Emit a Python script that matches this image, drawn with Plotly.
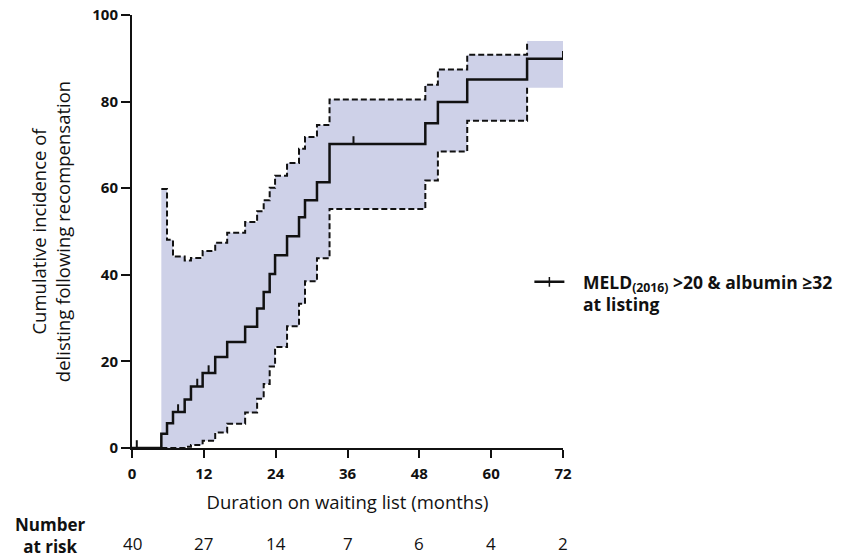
import plotly.graph_objects as go

# ---- data ----
months = [0, 4.9, 5.85, 6.85, 8.8, 9.85, 11.8, 13.9, 15.9, 18.9, 20.9, 22.0, 23.0, 23.9,
          25.9, 27.9, 28.9, 30.9, 33.0, 49.0, 51.1, 56.0, 66.0, 72.0]
incidence = [0, 3.3, 5.7, 8.3, 11.2, 14.2, 17.3, 21.0, 24.5, 28.0, 32.2, 36.0, 40.2, 44.5,
             48.9, 53.3, 57.2, 61.4, 70.2, 75.0, 79.9, 85.1, 89.9, 89.9]

ci_months = [4.9, 5.85, 6.85, 8.8, 9.85, 11.8, 13.9, 15.9, 18.9, 20.9, 22.0, 23.0, 23.9,
             25.9, 27.9, 28.9, 30.9, 33.0, 49.0, 51.1, 56.0, 66.0]
ci_upper = [59.8, 48.1, 44.2, 43.3, 43.9, 45.5, 47.4, 49.7, 52.2, 54.7, 57.2, 60.1, 62.9,
            65.8, 69.1, 71.8, 74.6, 80.5, 83.9, 87.4, 90.8, 94.0]
ci_lower = [0, 0, 0, 0.3, 0.7, 1.7, 3.6, 5.6, 8.2, 11.4, 14.8, 18.8, 23.3,
            28.1, 33.3, 38.5, 43.8, 55.2, 61.8, 68.5, 75.6, 83.2]
ci_end_month = 72.0

censor_months = [0.8, 7.7, 10.9, 12.8, 37.0, 72.0]
censor_values = [0, 8.3, 14.2, 17.3, 70.2, 89.9]
censor_height = 1.8

x_ticks = [0, 12, 24, 36, 48, 60, 72]
y_ticks = [0, 20, 40, 60, 80, 100]
number_at_risk = [40, 27, 14, 7, 6, 4, 2]

NB = "\u00a0\u00a0\u00a0"
series_name = NB + "MELD<sub>(2016)</sub> >20 & albumin ≥32<br>" + NB + "at listing"

FONT = "Open Sans"
INK = "#111111"
FILL = "rgb(206,209,232)"

fig = go.Figure()

# confidence band (fill)
fig.add_trace(go.Scatter(
    x=ci_months + [ci_end_month], y=ci_lower + [ci_lower[-1]],
    mode="lines", line=dict(width=0, shape="hv"), showlegend=False, hoverinfo="skip"))
fig.add_trace(go.Scatter(
    x=ci_months + [ci_end_month], y=ci_upper + [ci_upper[-1]],
    mode="lines", line=dict(width=0, shape="hv"), fill="tonexty", fillcolor=FILL,
    showlegend=False, hoverinfo="skip"))

# dashed CI bounds
for yy in (ci_lower, ci_upper):
    fig.add_trace(go.Scatter(
        x=ci_months, y=yy, mode="lines",
        line=dict(color=INK, width=2, dash="6px,3px", shape="hv"),
        showlegend=False, hoverinfo="skip"))

# estimate
fig.add_trace(go.Scatter(
    x=months, y=incidence, mode="lines",
    line=dict(color=INK, width=2.5, shape="hv"), showlegend=False))

# censor ticks
cx, cy = [], []
for m, v in zip(censor_months, censor_values):
    cx += [m, m, None]
    cy += [v, v + censor_height, None]
fig.add_trace(go.Scatter(x=cx, y=cy, mode="lines", line=dict(color=INK, width=2),
                         showlegend=False, hoverinfo="skip"))

# legend entry
fig.add_trace(go.Scatter(
    x=[None], y=[None], mode="lines+markers", name=series_name,
    line=dict(color=INK, width=2.5),
    marker=dict(symbol="line-ns-open", size=7, color=INK, line=dict(width=1.5, color=INK))))

# number at risk
for t, n in zip(x_ticks, number_at_risk):
    fig.add_annotation(x=t, y=-0.220, xref="x", yref="paper", text=str(n), showarrow=False,
                       font=dict(family=FONT, size=17, color=INK), xanchor="center", yanchor="middle")
fig.add_annotation(x=-0.19, y=-0.202, xref="paper", yref="paper",
                   text="<b>Number</b><br><b>at risk</b>", showarrow=False, align="center",
                   font=dict(family=FONT, size=17, color=INK), xanchor="center", yanchor="middle")

fig.update_layout(
    width=851, height=560,
    margin=dict(l=132, r=288, t=15, b=112, autoexpand=False),
    paper_bgcolor="white", plot_bgcolor="white",
    font=dict(family=FONT, color=INK),
    showlegend=True,
    legend=dict(x=0.922, xanchor="left", y=0.425, yanchor="top", valign="top",
                font=dict(family=FONT, size=17.5, color=INK, weight="bold"),
                bgcolor="rgba(0,0,0,0)", itemwidth=30, tracegroupgap=0),
    xaxis=dict(range=[0, 72], tickvals=x_ticks, ticktext=[str(v) for v in x_ticks],
               automargin=False,
               showgrid=False, zeroline=False, showline=True, linecolor=INK, linewidth=2,
               ticks="outside", ticklen=8, tickwidth=2, tickcolor=INK, ticklabelstandoff=3,
               tickfont=dict(family=FONT, size=15, color=INK, weight="bold"),
               title=dict(text="Duration on waiting list (months)", standoff=14,
                          font=dict(family=FONT, size=18.5, color=INK))),
    yaxis=dict(range=[0, 100], tickvals=y_ticks, ticktext=[str(v) for v in y_ticks],
               automargin=False,
               showgrid=False, zeroline=False, showline=True, linecolor=INK, linewidth=2,
               ticks="outside", ticklen=9, tickwidth=2, tickcolor=INK,
               tickfont=dict(family=FONT, size=15, color=INK, weight="bold"),
               title=dict(text="Cumulative incidence of<br>delisting following recompensation",
                          standoff=17, font=dict(family=FONT, size=18.5, color=INK))),
)

fig.write_html("out.html", config={"displayModeBar": False},
               post_script="document.body.style.margin='0';")
